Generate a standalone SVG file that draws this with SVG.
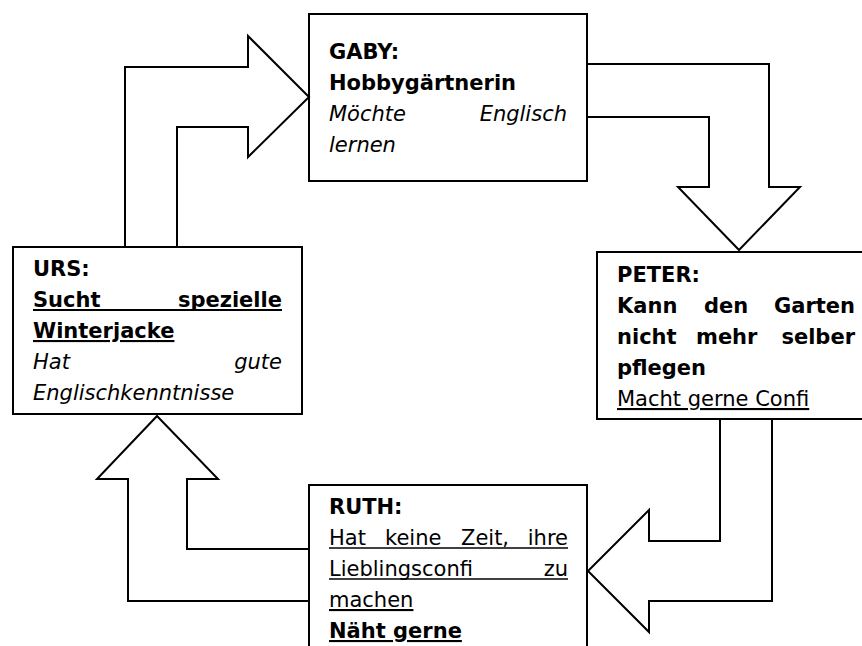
<svg xmlns="http://www.w3.org/2000/svg" width="862" height="646" viewBox="0 0 862 646">
<style>
  .box { fill: #ffffff; stroke: #000000; stroke-width: 2; }
  .arr { fill: none; stroke: #000000; stroke-width: 2; stroke-linejoin: miter; }
  text { font-family: "DejaVu Sans", Verdana, sans-serif; font-size: 21px; fill: #000000; }
  .b { font-weight: bold; }
  .i { font-style: italic; }
  .u { text-decoration: underline; }
  .ul { stroke: #000000; stroke-width: 1.5; }
  .ulb { stroke: #000000; stroke-width: 2; }
</style>
<rect width="862" height="646" fill="#ffffff"/>

<g id="gaby">
  <rect class="box" x="309" y="14" width="278" height="167"/>
  <text class="b" x="329" y="59">GABY:</text>
  <text class="b" x="329" y="90">Hobbygärtnerin</text>
  <text class="i" y="121"><tspan x="329">Möchte</tspan> <tspan x="567" text-anchor="end">Englisch</tspan></text>
  <text class="i" x="329" y="152">lernen</text>
</g>

<g id="peter">
  <rect class="box" x="597" y="252" width="270" height="167"/>
  <text class="b" x="617" y="282">PETER:</text>
  <text class="b" y="313"><tspan x="617">Kann</tspan> <tspan x="704">den</tspan> <tspan x="855" text-anchor="end">Garten</tspan></text>
  <text class="b" y="344"><tspan x="617">nicht</tspan> <tspan x="696">mehr</tspan> <tspan x="855" text-anchor="end">selber</tspan></text>
  <text class="b" x="617" y="375">pflegen</text>
  <text class="u" x="617" y="406">Macht gerne Confi</text>
</g>

<g id="urs">
  <rect class="box" x="13" y="247" width="289" height="167"/>
  <text class="b" x="33" y="276">URS:</text>
  <text class="b" y="307"><tspan x="33">Sucht</tspan> <tspan x="282" text-anchor="end">spezielle</tspan></text>
  <line class="ulb" x1="33" y1="310" x2="282" y2="310"/>
  <text class="b u" x="33" y="338">Winterjacke</text>
  <text class="i" y="369"><tspan x="33">Hat</tspan> <tspan x="282" text-anchor="end">gute</tspan></text>
  <text class="i" x="33" y="400">Englischkenntnisse</text>
</g>

<g id="ruth">
  <rect class="box" x="309" y="485" width="278" height="170"/>
  <text class="b" x="329" y="514">RUTH:</text>
  <text y="545"><tspan x="329">Hat</tspan> <tspan x="385">keine</tspan> <tspan x="461">Zeit,</tspan> <tspan x="568" text-anchor="end">ihre</tspan></text>
  <line class="ul" x1="329" y1="548" x2="568" y2="548"/>
  <text y="576"><tspan x="329">Lieblingsconfi</tspan> <tspan x="568" text-anchor="end">zu</tspan></text>
  <line class="ul" x1="329" y1="579" x2="568" y2="579"/>
  <text class="u" x="329" y="607">machen</text>
  <text class="b u" x="329" y="638">Näht gerne</text>
</g>

<g id="connectors">
  <polyline class="arr" points="125,247 125,67 248,67 248,36 309,97 248,157 248,127 177,127 177,247"/>
  <polyline class="arr" points="587,64 769,64 769,187 800,187 739,250 678,187 709,187 709,117 587,117"/>
  <polyline class="arr" points="720,419 720,541 649,541 649,510 588,571 649,632 649,601 772,601 772,419"/>
  <polyline class="arr" points="309,549 187,549 187,479 218,479 157,416 97,479 128,479 128,601 309,601"/>
</g>
</svg>
